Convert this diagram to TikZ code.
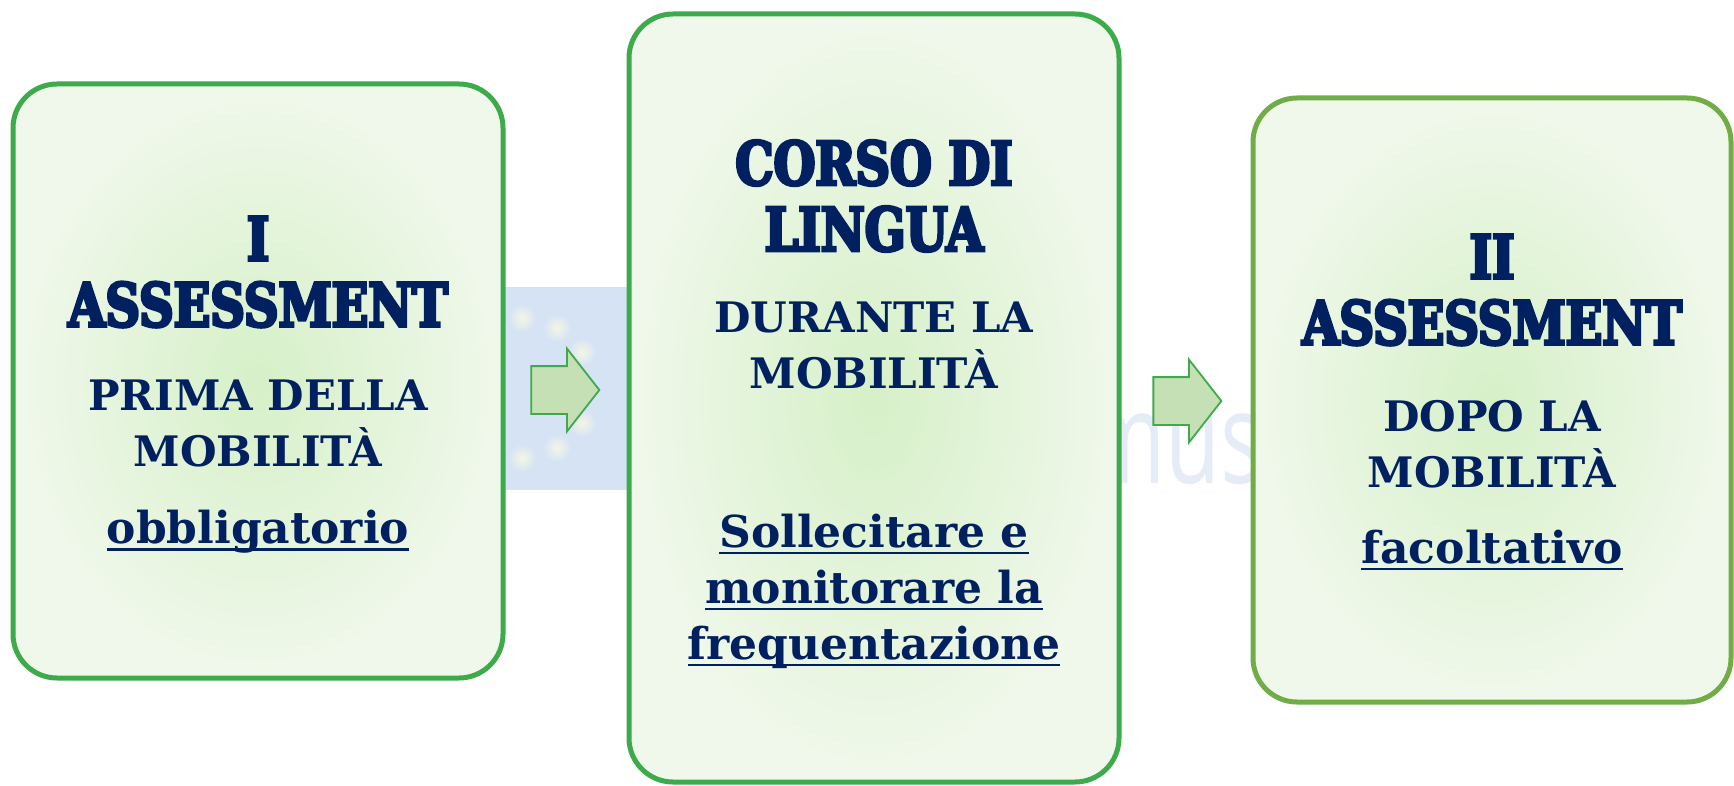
\documentclass[tikz,border=0pt]{standalone}
\usepackage{fontspec}
\usetikzlibrary{shapes.arrows}
\setmainfont{DejaVu Serif}
\newfontfamily\headfont{DejaVu Serif Bold}[FakeBold=5,FakeStretch=0.80]
\newfontfamily\logofont{Open Sans}[FakeStretch=0.7]
\newcommand\uln[1]{\setbox0\hbox{#1}\leavevmode\rlap{\vrule width\wd0 height -2.2pt depth 3.4pt}\box0}
\definecolor{navy}{HTML}{002060}
\definecolor{boxline}{HTML}{3DAA4B}
\definecolor{boxlinelight}{HTML}{70AD47}
\definecolor{boxcore}{HTML}{D6F0C8}
\definecolor{boxedge}{HTML}{F0F8EB}
\definecolor{arrowfill}{HTML}{C5E0B4}
\definecolor{flagblue}{HTML}{D6E3F4}
\definecolor{stardot}{HTML}{F4F6E4}
\definecolor{logogray}{HTML}{E6ECF6}
\tikzset{
  phase/.style={draw=#1, line width=2.5pt, rounded corners=22pt, shading=radial,
    inner color=boxcore, outer color=boxedge},
  headtext/.style={text=navy, align=center, font=\headfont\fontsize{30}{33}\selectfont},
  subtext/.style={text=navy, align=center, font=\bfseries\fontsize{21}{28}\selectfont},
  notetext/.style={text=navy, align=center, font=\bfseries\fontsize{22}{28}\selectfont},
  nexttick/.style={single arrow, draw=boxline, fill=arrowfill, line width=0.9pt,
    inner xsep=0pt, inner ysep=11.5pt, single arrow head extend=8.75pt,
    single arrow tip angle=104, minimum height=34pt},
}
\begin{document}
\begin{tikzpicture}[x=0.5pt,y=-0.5pt]
  \useasboundingbox (0,0) rectangle (1734,786);

  \fill[flagblue] (460,287) rectangle (660,490);
  \foreach \sx/\sy in {522/318,557/328,582/352,582/423,557/448,522/458}
    \shade[inner color=stardot, outer color=flagblue] (\sx,\sy) circle (14);
  \node[text=logogray, font=\logofont\fontsize{64}{64}\selectfont, anchor=base west] (logo) at (1075,483) {mus};

  \node[phase=boxline, minimum width=245pt, minimum height=297pt] (before) at (258,381) {};
  \node[phase=boxline, minimum width=245pt, minimum height=384pt] (during) at (874,398) {};
  \node[phase=boxlinelight, minimum width=239pt, minimum height=302pt] (after) at (1492,400) {};

  \node[nexttick] (go1) at (556,390) {};
  \node[nexttick] (go2) at (1178,401) {};

  \node[headtext] (t1) at (258,272) {I\\ASSESSMENT};
  \node[subtext] (s1) at (258,423) {PRIMA DELLA\\MOBILITÀ};
  \node[notetext] (n1) at (258,532) {\uln{obbligatorio}};

  \node[headtext] (t2) at (874,196) {CORSO DI\\LINGUA};
  \node[subtext] (s2) at (874,345) {DURANTE LA\\MOBILITÀ};
  \node[notetext] (n2) at (874,591) {\uln{Sollecitare e}\\\uln{monitorare la}\\\uln{frequentazione}};

  \node[headtext] (t3) at (1492,290) {II\\ASSESSMENT};
  \node[subtext] (s3) at (1492,444) {DOPO LA\\MOBILITÀ};
  \node[notetext] (n3) at (1492,550) {\uln{facoltativo}};
\end{tikzpicture}
\end{document}
